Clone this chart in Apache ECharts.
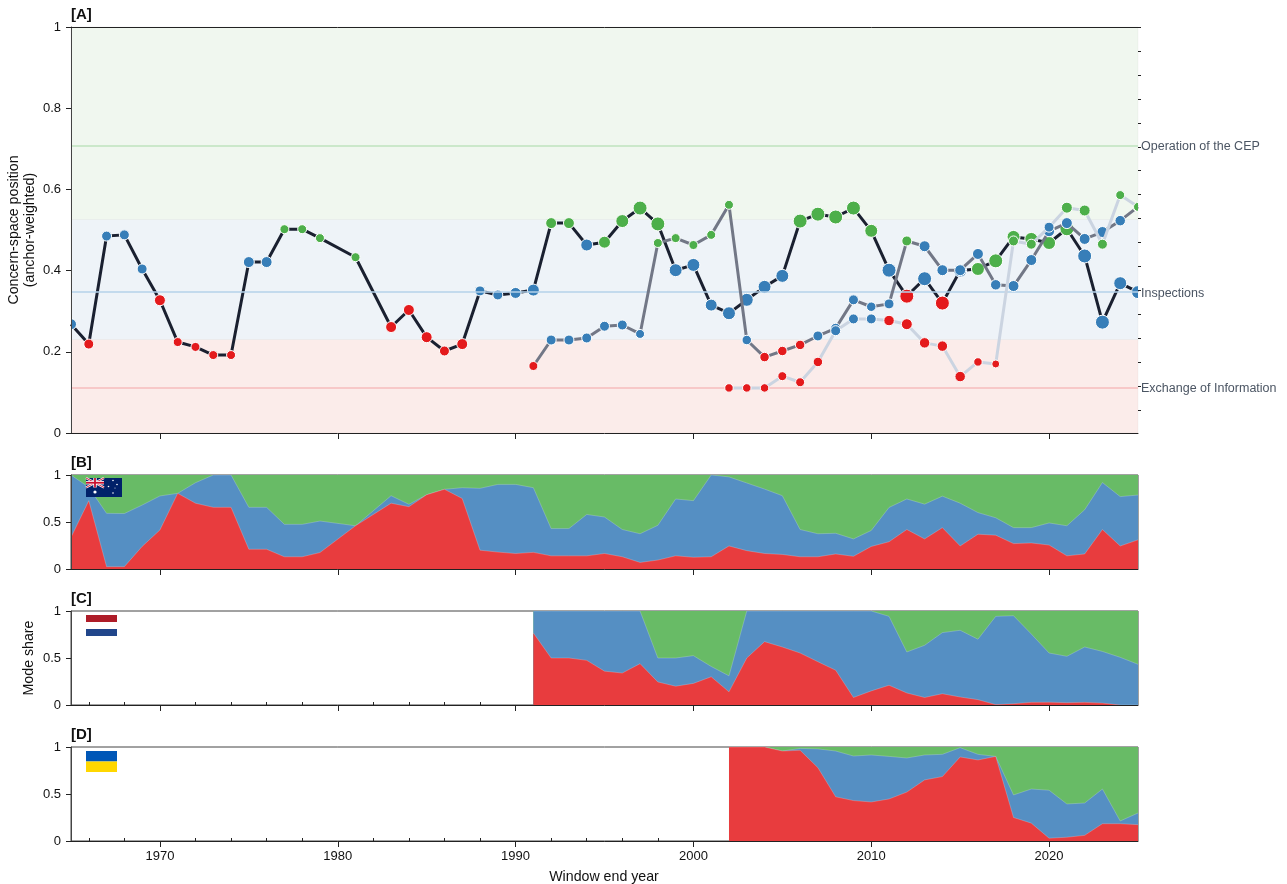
<!DOCTYPE html>
<html>
<head>
<meta charset="utf-8">
<style>
  html, body { margin: 0; padding: 0; background: #fff; }
  #main { width: 1287px; height: 884px; }
</style>
<script src="https://cdn.jsdelivr.net/npm/echarts@6/dist/echarts.min.js"></script>
</head>
<body>
<div id="main"></div>
<script>
// panel A: position of each country per window end year
const ausYears = [1965,1966,1967,1968,1969,1970,1971,1972,1973,1974,1975,1976,1977,1978,1979,1981,1983,1984,1985,1986,1987,1988,1989,1990,1991,1992,1993,1994,1995,1996,1997,1998,1999,2000,2001,2002,2003,2004,2005,2006,2007,2008,2009,2010,2011,2012,2013,2014,2015,2016,2017,2018,2019,2020,2021,2022,2023,2024,2025];
const ausPos = [.268,.219,.485,.488,.404,.327,.224,.212,.192,.192,.421,.421,.502,.502,.48,.433,.261,.303,.236,.202,.219,.35,.34,.345,.352,.517,.517,.463,.47,.522,.554,.515,.401,.414,.315,.295,.328,.36,.387,.522,.539,.532,.554,.498,.401,.337,.38,.32,.40,.404,.424,.483,.478,.468,.503,.436,.273,.369,.347];
const ausMode = ['i','e','i','i','i','e','e','e','e','e','i','i','o','o','o','o','e','e','e','e','e','i','i','i','i','o','o','i','o','o','o','o','i','i','i','i','i','i','i','o','o','o','o','o','i','e','i','e','i','o','o','o','o','o','o','i','i','i','i'];
const ausWeight = [3,2,2,2,2,3,1,1,1,1,3,3,1,1,1,1,3,3,3,2,3,2,2,3,4,3,3,4,4,5,6,6,5,5,4,5,5,5,5,6,6,6,6,5,6,6,6,6,5,5,6,5,5,5,6,6,6,5,5];

const nldYears = [1991,1992,1993,1994,1995,1996,1997,1998,1999,2000,2001,2002,2003,2004,2005,2006,2007,2008,2009,2010,2011,2012,2013,2014,2015,2016,2017,2018,2019,2020,2021,2022,2023,2024,2025];
const nldPos = [.165,.229,.229,.234,.263,.266,.244,.468,.48,.463,.488,.562,.229,.187,.202,.217,.239,.258,.328,.311,.318,.473,.46,.401,.401,.441,.365,.362,.426,.497,.517,.478,.495,.523,.557];
const nldMode = ['e','i','i','i','i','i','i','o','o','o','o','o','i','e','e','e','i','i','i','i','i','o','i','i','i','i','i','i','i','i','i','i','i','i','o'];
const nldWeight = [1,2,2,2,2,2,1,1,1,1,1,1,1.5,1.5,1.5,1.5,2,2,2,1.5,2,2,3,3,3,3,2.5,3,3,3,3,3,3,2.5,2];

const ukrYears = [2002,2003,2004,2005,2006,2007,2008,2009,2010,2011,2012,2013,2014,2015,2016,2017,2018,2019,2020,2021,2022,2023,2024,2025];
const ukrPos = [.111,.111,.111,.14,.125,.175,.252,.281,.281,.277,.268,.222,.214,.139,.175,.17,.473,.465,.507,.555,.548,.465,.586,.557];
const ukrMode = ['e','e','e','e','e','e','i','i','i','e','e','e','e','e','e','e','o','o','i','o','o','o','o','o'];
const ukrWeight = [.5,.5,.5,1,1,1.5,2,2,2,2.5,3,2.5,2.5,2.5,.5,0,2,2,2,3,3,2,1,1];

// panels B-D: share of the first mode, and of the first two modes together
const ausExch = [.337,.727,.025,.025,.24,.415,.805,.70,.656,.656,.21,.21,.13,.13,.175,.46,.70,.663,.79,.848,.75,.20,.18,.165,.177,.14,.14,.14,.165,.13,.07,.095,.14,.125,.13,.245,.195,.165,.155,.13,.13,.16,.135,.24,.29,.42,.32,.44,.245,.37,.36,.27,.277,.255,.14,.16,.42,.245,.31];
const ausExchInsp = [1,.87,.592,.59,.68,.777,.805,.918,1,1,.656,.656,.475,.475,.51,.46,.78,.688,.79,.848,.865,.858,.90,.90,.865,.43,.43,.58,.553,.42,.375,.465,.745,.727,1,.98,.915,.85,.78,.42,.375,.38,.32,.41,.655,.745,.69,.775,.70,.60,.545,.44,.44,.49,.46,.63,.92,.77,.787];

const nldExch = [.766,.50,.50,.475,.36,.34,.44,.245,.20,.23,.30,.14,.50,.674,.617,.553,.46,.37,.08,.15,.21,.128,.08,.12,.085,.057,.004,.014,.028,.03,.025,.028,.02,0,0];
const nldExchInsp = [1,1,1,1,1,1,1,.50,.50,.525,.41,.31,1,1,1,1,1,1,1,1,.943,.564,.635,.77,.795,.70,.943,.95,.755,.553,.518,.617,.57,.507,.433];

const ukrExch = [1,1,1,.957,.965,.78,.47,.43,.415,.447,.52,.65,.685,.894,.862,.90,.25,.19,.03,.04,.06,.184,.184,.174];
const ukrExchInsp = [1,1,1,.957,.985,.98,.957,.904,.915,.90,.883,.915,.922,.993,.922,.90,.49,.553,.54,.394,.404,.553,.213,.298];

// the three anchors and the bands around them
const anchorNames = ['Exchange of Information','Inspections','Operation of the CEP'];
const anchorValues = [.111,.347,.707];
const bandEdges = [0,.23,.526,1];
const rightTicks = [1,.941,.882,.823,.764,.705,.646,.587,.528,.469,.41,.351,.292,.233,.174,.115,.056];

const majorYears = [1970,1980,1990,2000,2010,2020];
const minorYears = [1966,1968,1972,1974,1976,1978,1982,1984,1986,1988,1992,1994,1996,1998,2002,2004,2006,2008,2012,2014,2016,2018,2022,2024];

const modeColor = { e: '#e41a1c', i: '#377eb8', o: '#4daf4a' };
const shareColor = { e: '#e83c3e', i: '#558fc3', o: '#68bb66' };
const bandFill = ['#fbecea', '#eef3f8', '#f0f7ef'];
const anchorLine = ['#f6bdbd', '#b4d2ea', '#bfe3be'];
const textFont = 'Liberation Sans';

const chart = echarts.init(document.getElementById('main'));

const panels = [
    { top: 27, height: 406 },
    { top: 475, height: 94 },
    { top: 611, height: 94 },
    { top: 747, height: 94 }
];

const grids = panels.map((p, i) => ({
    left: 71, width: 1067, top: p.top, height: p.height,
    show: i > 0, borderColor: '#444', borderWidth: 1
}));

const xAxes = [];
panels.forEach((p, i) => {
    xAxes.push({
        type: 'value', gridIndex: i, min: 1965, max: 2025, splitLine: { show: false }, z: 20,
        axisLine: { onZero: false, lineStyle: { color: '#222', width: 1 } },
        axisTick: { length: 6, lineStyle: { color: '#222' }, customValues: majorYears },
        axisLabel: { show: i === 3, customValues: majorYears, color: '#111', fontSize: 13, fontFamily: textFont, margin: 9, formatter: v => String(v) }
    });
    xAxes.push({
        type: 'value', gridIndex: i, min: 1965, max: 2025, splitLine: { show: false },
        axisLine: { show: false },
        axisTick: { length: 3, lineStyle: { color: '#222' }, customValues: minorYears },
        axisLabel: { show: false }
    });
});
// top spine of panel A
xAxes.push({
    type: 'value', gridIndex: 0, position: 'top', min: 1965, max: 2025, splitLine: { show: false }, z: 20,
    axisLine: { onZero: false, lineStyle: { color: '#222' } }, axisTick: { show: false }, axisLabel: { show: false }
});

const yLabel = v => (v === 0 || v === 1) ? String(v) : (v === 0.5 ? '0.5' : v.toFixed(1));
const yAxes = panels.map((p, i) => ({
    type: 'value', gridIndex: i, min: 0, max: 1, interval: i === 0 ? 0.2 : 0.5, splitLine: { show: false }, z: 20,
    axisLine: { show: true, onZero: false, lineStyle: { color: '#444' } },
    axisTick: { show: true, length: 5, lineStyle: { color: '#222' } },
    axisLabel: { color: '#111', fontSize: 13, fontFamily: textFont, margin: 10, padding: [5, 0, 0, 0], formatter: yLabel }
}));
yAxes.push({
    type: 'value', gridIndex: 0, position: 'right', min: 0, max: 1, splitLine: { show: false },
    axisLine: { show: false },
    axisTick: { show: true, length: 3, lineStyle: { color: '#222' }, customValues: rightTicks },
    axisLabel: { show: false }
});

const series = [];

// bands and anchor lines under everything else
series.push({
    type: 'line', xAxisIndex: 0, yAxisIndex: 0, data: [], z: 1, silent: true,
    markArea: {
        silent: true,
        data: bandFill.map((c, i) => [
            { yAxis: bandEdges[i], itemStyle: { color: c, borderColor: 'rgba(0,0,0,0.03)', borderWidth: 1 } },
            { yAxis: bandEdges[i + 1] }
        ])
    },
    markLine: {
        silent: true, symbol: 'none', animation: false, precision: 3,
        data: anchorValues.map((v, i) => ({
            yAxis: v, name: anchorNames[i],
            lineStyle: { color: anchorLine[i], width: 1.5, type: 'solid' },
            label: { show: true, position: 'end', distance: 3, offset: [0, 1], formatter: '{b}', color: '#4b5563', fontSize: 12.5, fontFamily: textFont }
        }))
    }
});

function addTrack(years, pos, modes, weights, lineColor, z) {
    series.push({
        type: 'line', xAxisIndex: 0, yAxisIndex: 0, z: z, silent: true,
        showSymbol: false, symbol: 'none',
        lineStyle: { color: lineColor, width: 3 },
        data: years.map((y, i) => [y, pos[i]])
    });
    series.push({
        type: 'custom', xAxisIndex: 0, yAxisIndex: 0, z: z + 1, silent: true, clip: true,
        encode: { x: 0, y: 1 },
        data: years.map((y, i) => [y, pos[i], weights[i]]),
        renderItem: (params, api) => {
            const c = api.coord([api.value(0), api.value(1)]);
            return {
                type: 'circle',
                shape: { cx: c[0], cy: c[1], r: (8 + api.value(2)) / 2 },
                style: { fill: modeColor[modes[params.dataIndex]], stroke: '#fff', lineWidth: 1 }
            };
        }
    });
}
addTrack(ausYears, ausPos, ausMode, ausWeight, '#1a2030', 3);
addTrack(nldYears, nldPos, nldMode, nldWeight, '#727786', 5);
addTrack(ukrYears, ukrPos, ukrMode, ukrWeight, '#cbd4e1', 7);

// areas are painted back to front from the cumulative shares
function addShares(panel, years, exch, exchInsp) {
    const layers = [
        { color: shareColor.o, seam: 0, values: years.map(() => 1) },
        { color: shareColor.i, seam: 0.7, values: exchInsp },
        { color: shareColor.e, seam: 0.7, values: exch }
    ];
    layers.forEach((layer, k) => {
        series.push({
            type: 'line', xAxisIndex: panel * 2, yAxisIndex: panel,
            symbol: 'none', silent: true, z: 2 + k,
            lineStyle: { width: layer.seam, color: 'rgba(255,255,255,0.3)' },
            areaStyle: { color: layer.color, opacity: 1 },
            data: years.map((y, i) => [y, layer.values[i]])
        });
    });
}
addShares(1, ausYears, ausExch, ausExchInsp);
addShares(2, nldYears, nldExch, nldExchInsp);
addShares(3, ukrYears, ukrExch, ukrExchInsp);

const labelStyle = { fill: '#111', fontFamily: textFont };
const text = (x, y, t, extra) => ({
    type: 'text', x: x, y: y, silent: true,
    style: Object.assign({ text: t, fontSize: 14.2, textAlign: 'center', textVerticalAlign: 'middle' }, labelStyle, extra || {})
});
const rotText = (x, y, t) => Object.assign(text(x, y, t), { rotation: Math.PI / 2 });

const rect = (x, y, w, h, fill) => ({ type: 'rect', shape: { x: x, y: y, width: w, height: h }, style: { fill: fill }, z: 50, silent: true });
const seg = (x1, y1, x2, y2, color, w) => ({ type: 'line', shape: { x1: x1, y1: y1, x2: x2, y2: y2 }, style: { stroke: color, lineWidth: w }, z: 51, silent: true });
const star = (x, y, r) => ({ type: 'circle', shape: { cx: x, cy: y, r: r }, style: { fill: '#fff' }, z: 52, silent: true });

const flags = [
    // Australia
    rect(86, 478, 36, 19, '#012169'),
    seg(86, 478, 104, 487.5, '#fff', 2.2), seg(86, 487.5, 104, 478, '#fff', 2.2),
    seg(86, 478, 104, 487.5, '#c8102e', 0.9), seg(86, 487.5, 104, 478, '#c8102e', 0.9),
    seg(95, 478, 95, 487.5, '#fff', 3.4), seg(86, 482.75, 104, 482.75, '#fff', 3.4),
    seg(95, 478, 95, 487.5, '#c8102e', 1.8), seg(86, 482.75, 104, 482.75, '#c8102e', 1.8),
    star(95, 492, 1.6), star(113, 480.5, 0.8), star(113, 493, 0.8), star(108.5, 486.5, 0.8), star(117, 484.5, 0.8), star(115, 488, 0.5),
    // Netherlands
    rect(86, 615, 31, 7, '#ae1c28'),
    rect(86, 629, 31, 7, '#21468b'),
    // Ukraine
    rect(86, 751, 31, 10.5, '#0057b7'),
    rect(86, 761.5, 31, 10.5, '#ffd700')
];

const bold = { textAlign: 'left', fontWeight: 'bold', fontSize: 15 };
const graphicElements = [
    text(71, 15, '[A]', bold),
    text(71, 463, '[B]', bold),
    text(71, 599, '[C]', bold),
    text(71, 735, '[D]', bold),
    text(604, 877, 'Window end year'),
    rotText(14, 230, 'Concern-space position'),
    rotText(30, 230, '(anchor-weighted)'),
    rotText(29, 658, 'Mode share')
].concat(flags);

chart.setOption({
    animation: false,
    grid: grids,
    xAxis: xAxes,
    yAxis: yAxes,
    series: series,
    graphic: { elements: graphicElements }
});
</script>
</body>
</html>
